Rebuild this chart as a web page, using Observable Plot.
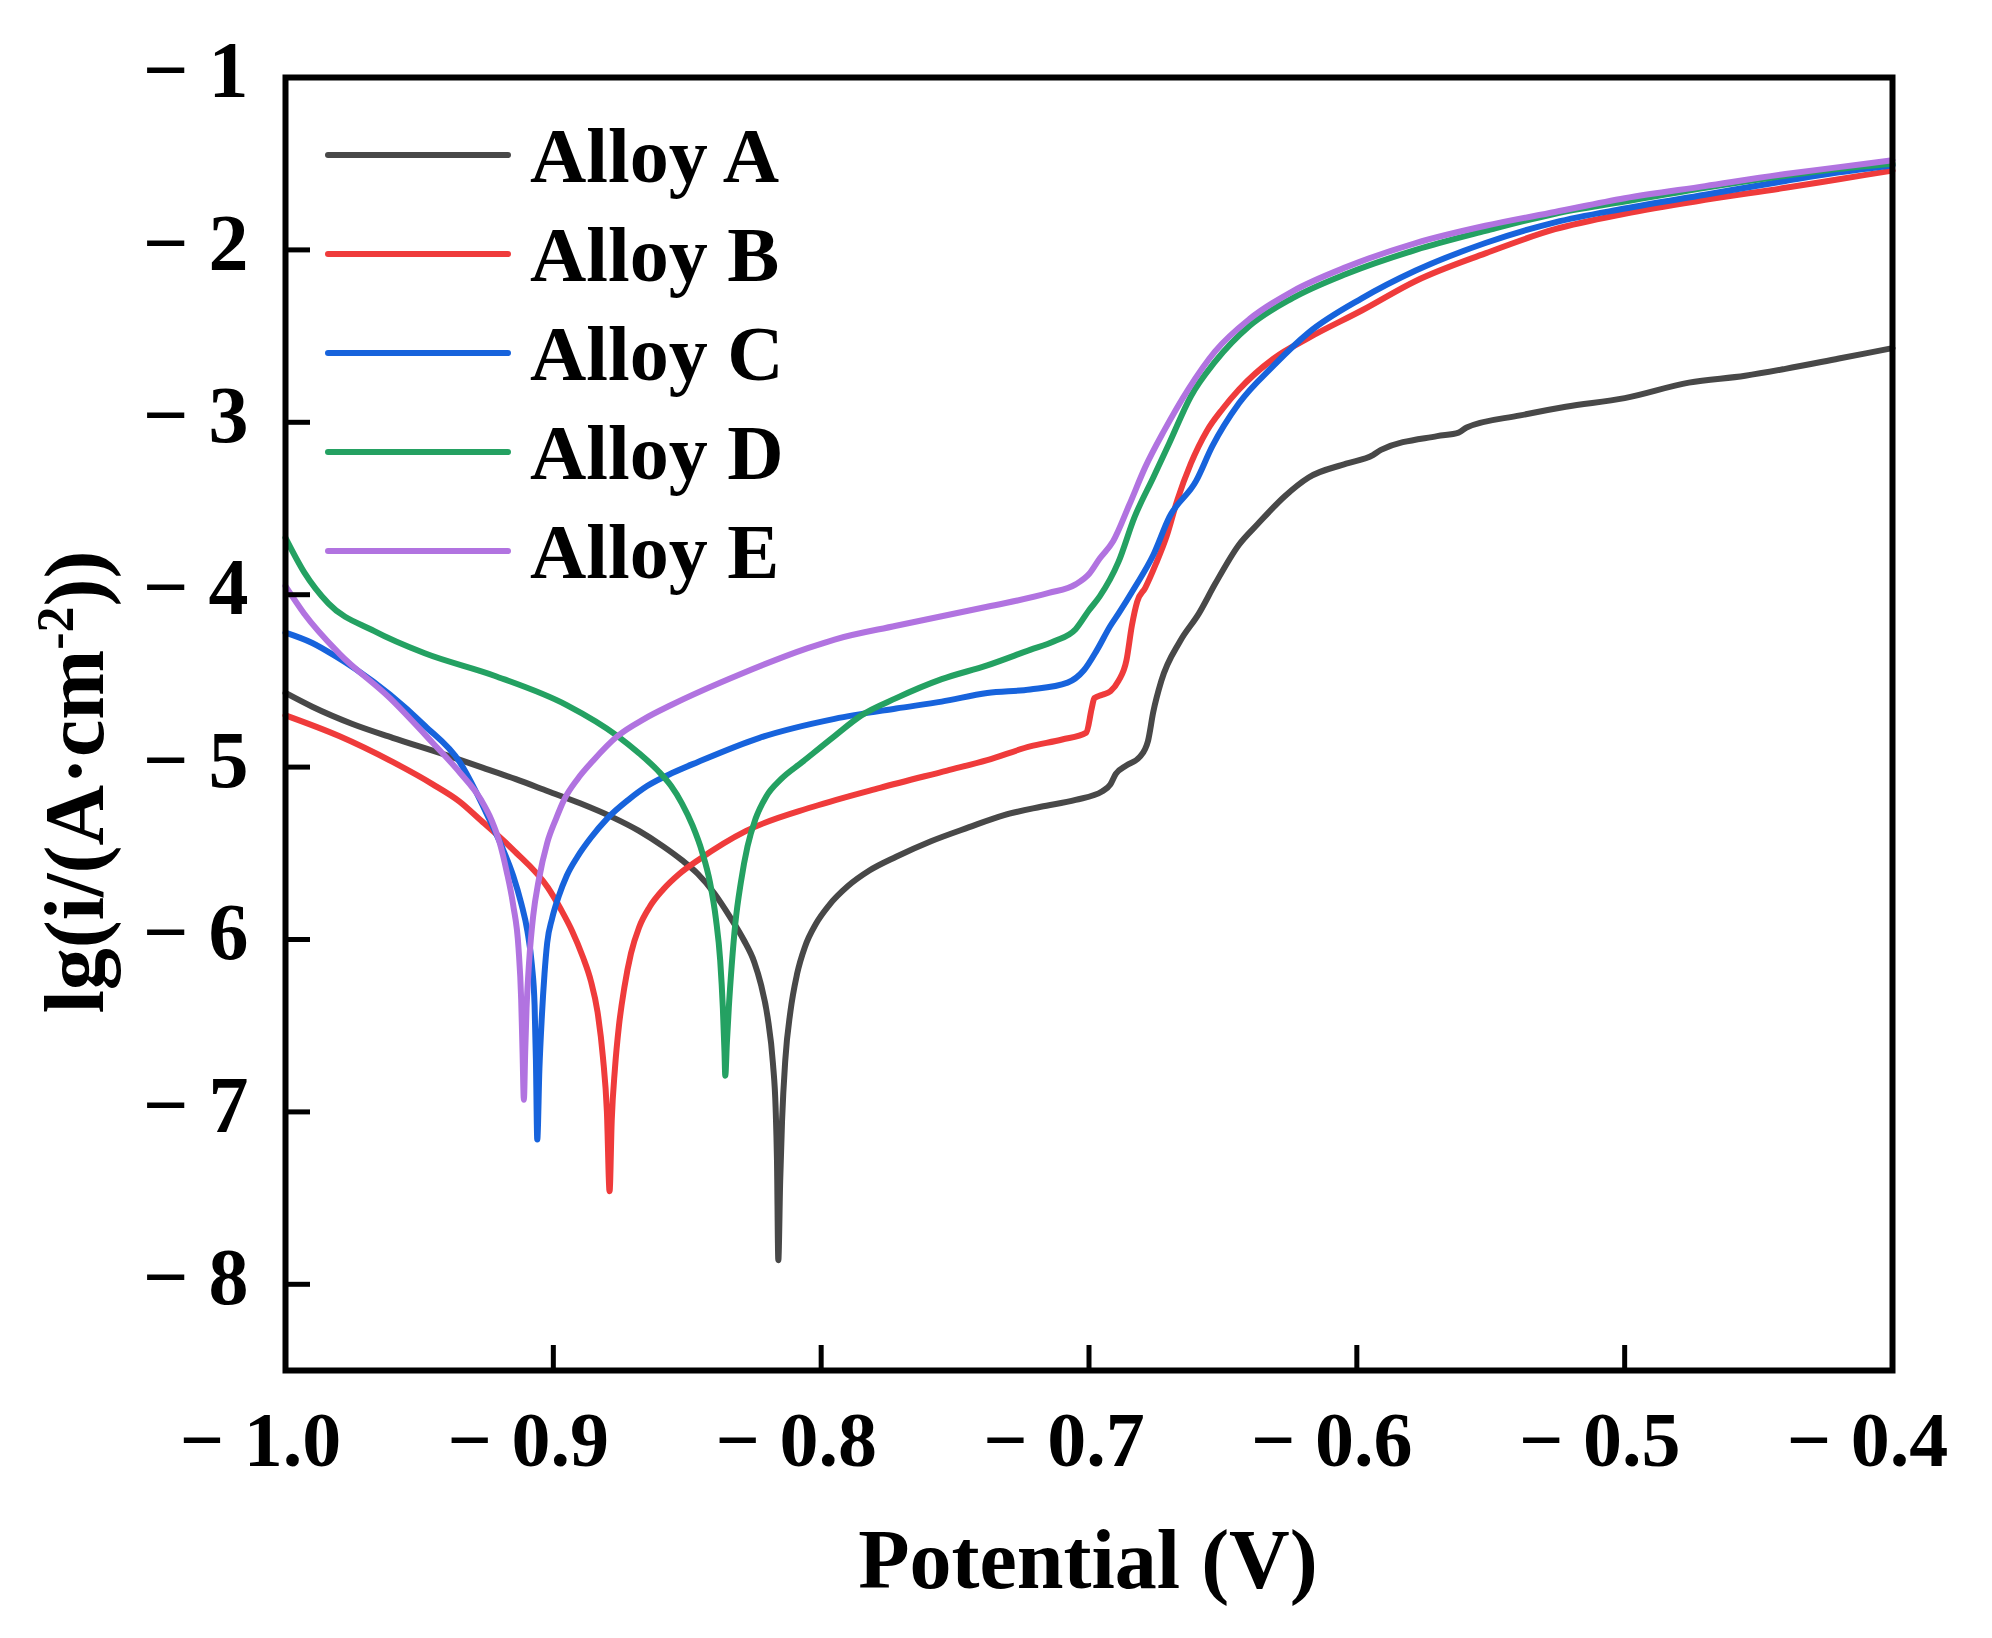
<!DOCTYPE html>
<html>
<head>
<meta charset="utf-8">
<script src="https://cdn.jsdelivr.net/npm/d3@7"></script>
<script src="https://cdn.jsdelivr.net/npm/@observablehq/plot@0.6"></script>
<style>
  html, body { margin: 0; padding: 0; background: #ffffff; }
  #chart svg { display: block; }
</style>
</head>
<body>
<div id="chart"></div>
<script>
// Tafel polarization curves: potential (V) vs lg(i / (A·cm^-2))
const alloys = ["Alloy A", "Alloy B", "Alloy C", "Alloy D", "Alloy E"];
const colors = ["#484848", "#ef3b3b", "#1763dc", "#24a162", "#b173e0"];

const xTicks = [-1.0, -0.9, -0.8, -0.7, -0.6, -0.5, -0.4];
const yTicks = [-1, -2, -3, -4, -5, -6, -7, -8];

// [potential, lg(i)]
const alloyA = [
  [-1.000, -4.57], [-0.990, -4.65], [-0.975, -4.75], [-0.960, -4.83], [-0.940, -4.93],
  [-0.927, -5.00], [-0.914, -5.07], [-0.902, -5.14], [-0.890, -5.21], [-0.878, -5.29],
  [-0.868, -5.37], [-0.859, -5.46], [-0.852, -5.54], [-0.846, -5.62], [-0.840, -5.73],
  [-0.834, -5.87], [-0.829, -6.00], [-0.825, -6.13], [-0.8225, -6.26], [-0.820, -6.45],
  [-0.818, -6.72], [-0.817, -6.98], [-0.8165, -7.28], [-0.816, -7.86], [-0.8153, -7.40],
  [-0.8146, -7.05], [-0.8134, -6.70], [-0.8115, -6.42], [-0.809, -6.20], [-0.806, -6.04],
  [-0.802, -5.91], [-0.797, -5.80], [-0.790, -5.69], [-0.782, -5.60], [-0.772, -5.52],
  [-0.759, -5.43], [-0.745, -5.35], [-0.732, -5.28], [-0.718, -5.23], [-0.705, -5.19],
  [-0.695, -5.14], [-0.692, -5.10], [-0.690, -5.04], [-0.686, -4.99], [-0.681, -4.94],
  [-0.678, -4.85], [-0.676, -4.68], [-0.673, -4.50], [-0.666, -4.27], [-0.659, -4.11],
  [-0.653, -3.94], [-0.644, -3.71], [-0.637, -3.59], [-0.627, -3.43], [-0.618, -3.32],
  [-0.604, -3.24], [-0.594, -3.19], [-0.591, -3.16], [-0.570, -3.08], [-0.562, -3.06],
  [-0.559, -3.03], [-0.539, -2.96], [-0.522, -2.91], [-0.500, -2.86], [-0.476, -2.77],
  [-0.455, -2.73], [-0.440, -2.69], [-0.420, -2.63], [-0.400, -2.57]
];

const alloyB = [
  [-1.000, -4.70], [-0.980, -4.82], [-0.960, -4.97], [-0.945, -5.10], [-0.935, -5.20],
  [-0.927, -5.31], [-0.915, -5.48], [-0.902, -5.70], [-0.897, -5.83], [-0.893, -5.95],
  [-0.889, -6.10], [-0.886, -6.24], [-0.8835, -6.42], [-0.8815, -6.68], [-0.880, -7.00],
  [-0.879, -7.46], [-0.8782, -7.05], [-0.877, -6.75], [-0.8755, -6.50], [-0.8735, -6.28],
  [-0.871, -6.08], [-0.868, -5.93], [-0.864, -5.81], [-0.859, -5.71], [-0.853, -5.62],
  [-0.846, -5.54], [-0.828, -5.37], [-0.803, -5.23], [-0.778, -5.12], [-0.753, -5.02],
  [-0.738, -4.96], [-0.722, -4.88], [-0.710, -4.84], [-0.701, -4.80], [-0.699, -4.66],
  [-0.698, -4.60], [-0.695, -4.58], [-0.692, -4.56], [-0.689, -4.50], [-0.686, -4.38],
  [-0.684, -4.18], [-0.682, -4.04], [-0.679, -3.96], [-0.675, -3.82], [-0.671, -3.66],
  [-0.667, -3.45], [-0.662, -3.24], [-0.656, -3.05], [-0.650, -2.92], [-0.644, -2.81],
  [-0.631, -2.63], [-0.618, -2.51], [-0.598, -2.35], [-0.578, -2.18], [-0.552, -2.02],
  [-0.526, -1.88], [-0.500, -1.79], [-0.470, -1.71], [-0.440, -1.64], [-0.420, -1.59],
  [-0.400, -1.54]
];

const alloyC = [
  [-1.000, -4.22], [-0.990, -4.28], [-0.981, -4.36], [-0.974, -4.43], [-0.961, -4.58],
  [-0.948, -4.76], [-0.935, -4.97], [-0.924, -5.30], [-0.919, -5.47], [-0.915, -5.63],
  [-0.912, -5.79], [-0.9097, -5.95], [-0.908, -6.15], [-0.907, -6.38], [-0.9065, -6.70],
  [-0.906, -7.16], [-0.9052, -6.75], [-0.9043, -6.45], [-0.9033, -6.20], [-0.9023, -6.02],
  [-0.9005, -5.88], [-0.898, -5.75], [-0.895, -5.63], [-0.891, -5.52], [-0.886, -5.41],
  [-0.880, -5.30], [-0.872, -5.19], [-0.865, -5.11], [-0.855, -5.03], [-0.846, -4.97],
  [-0.823, -4.83], [-0.795, -4.72], [-0.772, -4.66], [-0.755, -4.62], [-0.738, -4.57],
  [-0.722, -4.55], [-0.708, -4.51], [-0.702, -4.44], [-0.697, -4.32], [-0.692, -4.18],
  [-0.689, -4.11], [-0.683, -3.96], [-0.676, -3.77], [-0.670, -3.55], [-0.660, -3.34],
  [-0.654, -3.14], [-0.644, -2.89], [-0.631, -2.67], [-0.618, -2.48], [-0.598, -2.28],
  [-0.578, -2.12], [-0.552, -1.96], [-0.526, -1.84], [-0.500, -1.76], [-0.470, -1.68],
  [-0.440, -1.60], [-0.420, -1.55], [-0.400, -1.51]
];

const alloyD = [
  [-1.000, -3.67], [-0.993, -3.87], [-0.984, -4.05], [-0.967, -4.21], [-0.948, -4.34],
  [-0.922, -4.47], [-0.895, -4.64], [-0.876, -4.82], [-0.868, -4.92], [-0.861, -5.02],
  [-0.856, -5.11], [-0.852, -5.21], [-0.848, -5.34], [-0.8445, -5.49], [-0.8415, -5.67],
  [-0.8393, -5.88], [-0.8377, -6.12], [-0.8367, -6.40], [-0.8361, -6.65], [-0.8358, -6.79],
  [-0.8352, -6.60], [-0.8345, -6.40], [-0.8334, -6.15], [-0.832, -5.90], [-0.830, -5.67],
  [-0.8275, -5.46], [-0.8245, -5.30], [-0.8205, -5.17], [-0.815, -5.07], [-0.807, -4.97],
  [-0.795, -4.82], [-0.785, -4.70], [-0.772, -4.60], [-0.755, -4.49], [-0.738, -4.41],
  [-0.722, -4.32], [-0.713, -4.27], [-0.705, -4.20], [-0.700, -4.09], [-0.696, -4.01],
  [-0.689, -3.81], [-0.683, -3.55], [-0.676, -3.32], [-0.670, -3.12], [-0.662, -2.85],
  [-0.653, -2.65], [-0.640, -2.44], [-0.624, -2.28], [-0.604, -2.14], [-0.578, -2.00],
  [-0.552, -1.89], [-0.526, -1.79], [-0.500, -1.72], [-0.470, -1.64], [-0.440, -1.57],
  [-0.420, -1.53], [-0.400, -1.50]
];

const alloyE = [
  [-1.000, -3.95], [-0.993, -4.11], [-0.980, -4.34], [-0.961, -4.60], [-0.945, -4.86],
  [-0.935, -5.03], [-0.927, -5.19], [-0.923, -5.31], [-0.920, -5.44], [-0.9175, -5.60],
  [-0.915, -5.80], [-0.913, -6.05], [-0.912, -6.35], [-0.9115, -6.65], [-0.911, -6.93],
  [-0.9105, -6.65], [-0.910, -6.40], [-0.909, -6.12], [-0.9075, -5.86], [-0.9055, -5.66],
  [-0.9023, -5.44], [-0.899, -5.30], [-0.896, -5.19], [-0.891, -5.07], [-0.885, -4.96],
  [-0.876, -4.82], [-0.866, -4.72], [-0.856, -4.64], [-0.830, -4.46], [-0.805, -4.31],
  [-0.795, -4.26], [-0.772, -4.18], [-0.738, -4.07], [-0.715, -3.99], [-0.705, -3.94],
  [-0.700, -3.88], [-0.696, -3.79], [-0.691, -3.69], [-0.685, -3.48], [-0.679, -3.26],
  [-0.672, -3.05], [-0.663, -2.81], [-0.653, -2.59], [-0.640, -2.40], [-0.624, -2.24],
  [-0.604, -2.10], [-0.578, -1.96], [-0.552, -1.86], [-0.526, -1.78], [-0.500, -1.70],
  [-0.470, -1.63], [-0.440, -1.56], [-0.420, -1.52], [-0.400, -1.48]
];

const seriesValues = [alloyA, alloyB, alloyC, alloyD, alloyE];

// long table for the line mark
const rows = alloys.flatMap((name, i) =>
  seriesValues[i].map(([v, lg]) => ({alloy: name, v, lg}))
);

const minus = "\u2212 ";
const fmtX = d => minus + Math.abs(d).toFixed(1);
const fmtY = d => minus + Math.abs(d);

const fontFamily = "'Liberation Serif', 'Times New Roman', serif";

const svg = Plot.plot({
  width: 1992,
  height: 1638,
  marginLeft: 285,
  marginRight: 100,
  marginTop: 77,
  marginBottom: 268,
  style: {fontFamily, fontWeight: "bold", background: "#ffffff", color: "#000000"},
  x: {domain: [-1.0, -0.4]},
  y: {domain: [-8.5, -1]},
  color: {domain: alloys, range: colors},
  marks: [
    Plot.line(rows, {x: "v", y: "lg", z: "alloy", stroke: "alloy", strokeWidth: 6, curve: "monotone-x"}),
    // inward tick marks
    Plot.axisX({ticks: xTicks, tickSize: 25, dy: -25, fill: "none", label: null, strokeWidth: 5}),
    Plot.axisY({ticks: yTicks, tickSize: 25, dx: 25, fill: "none", label: null, strokeWidth: 5}),
    // tick labels
    Plot.axisX({ticks: xTicks, tickSize: 0, tickPadding: 40, dx: -25, tickFormat: fmtX, fontSize: 78, label: null}),
    Plot.axisY({ticks: yTicks, tickSize: 0, tickPadding: 37, tickFormat: fmtY, fontSize: 80, dy: -6, label: null}),
    Plot.frame({stroke: "#000000", strokeWidth: 6})
  ]
});

document.getElementById("chart").append(svg);

const root = d3.select(svg);

// x axis title
root.append("text")
  .attr("x", 1088).attr("y", 1588)
  .attr("text-anchor", "middle")
  .attr("font-family", fontFamily).attr("font-weight", "bold").attr("font-size", 84)
  .attr("fill", "#000")
  .text("Potential (V)");

// y axis title with superscript exponent
const yTitle = root.append("text")
  .attr("transform", "translate(103,782) rotate(-90)")
  .attr("text-anchor", "middle")
  .attr("font-family", fontFamily).attr("font-weight", "bold").attr("font-size", 84)
  .attr("fill", "#000");
yTitle.append("tspan").text("lg(i/(A\u00b7cm");
yTitle.append("tspan").attr("font-size", 52).attr("dy", -30).text("-2");
yTitle.append("tspan").attr("dy", 30).text("))");

// legend
const legend = root.append("g")
  .attr("font-family", fontFamily).attr("font-weight", "bold").attr("font-size", 78)
  .attr("text-anchor", "start");
alloys.forEach((name, i) => {
  const y = 155 + i * 99;
  legend.append("line")
    .attr("x1", 328).attr("x2", 508).attr("y1", y).attr("y2", y)
    .attr("stroke", colors[i]).attr("stroke-width", 6).attr("stroke-linecap", "round");
  legend.append("text")
    .attr("x", 530).attr("y", y).attr("dy", "0.34em")
    .attr("text-anchor", "start")
    .attr("fill", "#000")
    .text(name);
});
</script>
</body>
</html>
